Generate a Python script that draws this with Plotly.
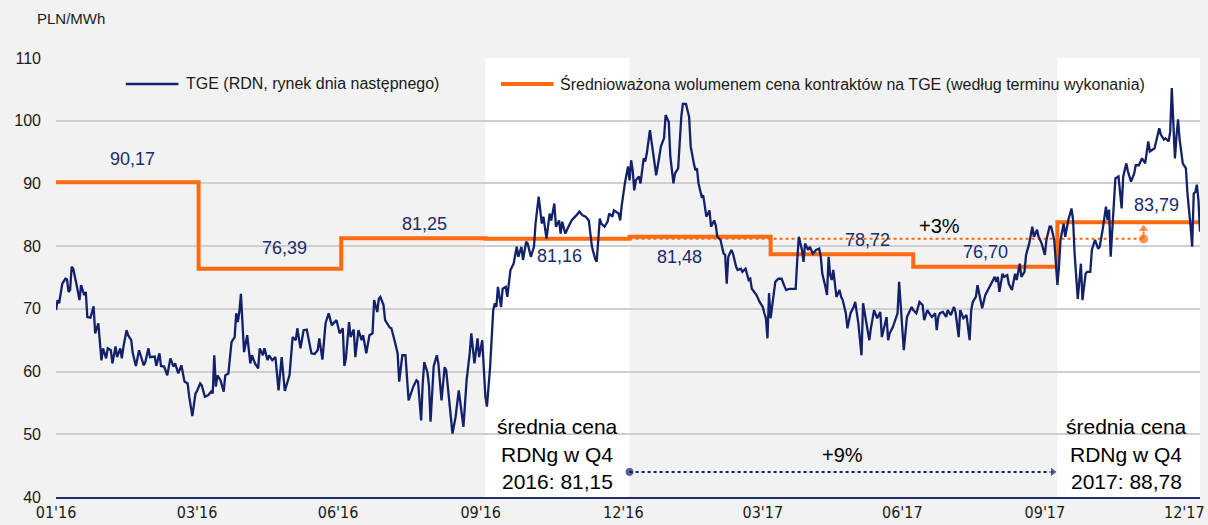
import pandas as pd
import plotly.graph_objects as go

START = pd.Timestamp("2016-01-01")

# ---- TGE day-ahead (RDN) daily price, PLN/MWh: day index since 2016-01-01 ----
tge_day = [
    0, 1, 2, 4, 6, 7, 8, 9, 10, 11, 13, 15, 16, 18, 19, 20, 22, 24, 25, 27,
    29, 30, 32, 33, 35, 36, 38, 39, 41, 42, 43, 45, 46, 48, 49, 51, 53, 54, 56, 57,
    59, 60, 63, 64, 66, 67, 69, 71, 73, 75, 76, 78, 80, 82, 84, 85, 87, 89, 90, 92,
    93, 95, 97, 99, 100, 101, 102, 103, 105, 107, 108, 110, 112, 114, 115, 116, 117, 118, 119,
    120, 122, 124, 125, 127, 129, 130, 132, 133, 135, 136, 138, 140, 141, 142, 144, 146, 149, 151, 153,
    154, 156, 158, 160, 163, 165, 167, 168, 170, 172, 174, 176, 179, 181, 183, 184, 185, 187, 188, 190,
    191, 193, 195, 196, 198, 200, 202, 203, 205, 206, 207, 209, 210, 213, 214, 216, 218, 219, 221, 223,
    225, 228, 230, 231, 233, 234, 235, 237, 238, 239, 241, 243,
    244, 246, 248, 249, 251, 253, 255, 257, 260, 262, 264, 265, 267, 269, 270, 272, 274, 275, 277, 279,
    280, 281, 282, 284, 285, 287, 288, 290, 292, 294, 295, 297, 298, 300, 301, 303, 305, 306, 308, 310,
    311, 313, 315, 316, 318, 319, 321, 322, 323, 325, 327, 329, 332, 334, 336, 338, 340, 342, 344, 345,
    347, 348, 350, 352, 353, 355, 356, 359, 360, 361, 363, 365,
    366, 367, 368, 369, 370, 372, 373, 375, 376, 377, 379, 380, 381, 383, 385, 386, 388, 389, 391, 392,
    394, 395, 397, 399, 400, 402, 404, 405, 407, 408, 409, 410, 412, 413, 415, 417, 418, 420, 421, 422,
    424, 426, 427, 428, 429, 431, 432, 434, 435, 437, 438, 440, 442, 443, 444, 446, 447, 449, 451, 452,
    453, 454, 455, 456, 458, 459, 461, 463, 465, 466, 468, 470, 472, 473, 474, 476, 477, 478, 480, 481,
    483, 485,
    487, 488, 489, 491, 492, 493, 494, 495, 496, 498, 500, 501, 502, 504, 505, 507, 509, 510, 512, 514,
    515, 517, 519, 520, 522, 524, 526, 527, 529, 530, 531, 532, 534, 535, 537, 538, 539, 540, 541, 543,
    544, 546, 547, 549, 551, 553, 554, 556, 558, 559, 561, 562, 563, 564, 566, 568, 569, 571, 573, 574,
    576, 577, 579, 581, 583, 584, 585, 587, 588, 590, 591, 593, 594, 596, 598, 599, 600,
    601, 602, 604, 605, 607, 608, 610, 612, 613, 615, 616, 618, 619, 621, 623, 624, 626, 627, 629, 631,
    632, 634, 635, 637, 639, 640, 641, 643, 644, 646, 648, 649, 650, 652, 653, 654, 655, 657, 658, 660,
    661, 663, 665, 666, 668, 670, 671, 672, 673, 674, 675, 676, 678, 680, 681, 683, 684, 686, 688, 689,
    691, 693, 695, 697, 698, 700, 701, 704, 705, 707, 708, 710, 711, 712, 714, 715, 716, 717, 719, 721,
    722, 724, 725, 726, 727, 728, 729, 730,
]
tge_price = [
    69.8, 71.4, 70.9, 74.0, 74.8, 74.7, 72.7, 73.0, 76.7, 76.4, 74.0, 71.4, 73.8, 72.2, 72.7, 68.7, 68.6, 70.4, 66.1, 67.7,
    61.8, 63.7, 62.1, 63.7, 63.4, 61.3, 64.0, 62.3, 63.7, 62.1, 63.9, 66.6, 65.8, 65.0, 62.9, 60.9, 63.4, 62.6, 61.0, 61.5,
    63.7, 62.3, 62.4, 60.9, 62.9, 60.9, 60.8, 59.4, 62.1, 60.8, 61.3, 59.7, 61.0, 58.4, 58.1, 56.0, 52.9, 56.5, 56.9, 58.1,
    57.8, 56.0, 56.2, 56.8, 56.5, 62.6, 57.6, 59.4, 58.6, 56.8, 59.4, 59.7, 64.7, 65.5, 69.3, 67.9, 69.5, 72.4, 67.9,
    63.1, 65.8, 61.3, 62.6, 61.3, 60.5, 63.7, 62.6, 63.7, 61.8, 62.6, 61.8, 62.3, 59.7, 57.0, 62.3, 56.9, 59.4, 65.5, 65.0,
    66.9, 63.7, 66.6, 66.7, 62.9, 62.8, 63.4, 65.3, 61.9, 67.7, 69.3, 67.4, 68.2, 66.1, 66.9, 60.9, 62.1, 67.9, 65.5, 66.7,
    62.3, 66.6, 65.0, 65.8, 62.9, 65.8, 66.1, 71.4, 69.5, 71.6, 71.9, 70.6, 68.2, 67.0, 66.9, 65.0, 62.9, 58.4, 62.6, 62.6,
    55.4, 57.6, 58.6, 58.4, 52.2, 58.1, 61.5, 59.9, 57.8, 52.0, 60.8, 62.6,
    61.3, 55.4, 60.7, 60.2, 54.9, 50.1, 52.8, 57.0, 51.2, 58.6, 62.9, 66.1, 61.3, 65.3, 62.3, 65.0, 56.0, 54.4, 60.7, 69.8,
    70.9, 70.3, 73.5, 70.3, 73.2, 73.5, 71.9, 76.2, 77.2, 79.9, 78.3, 79.9, 77.8, 80.7, 80.4, 78.3, 79.9, 83.6, 87.9, 83.6,
    84.7, 81.2, 85.2, 84.1, 86.8, 83.1, 84.1, 82.0, 83.9, 82.0, 83.1, 84.1, 84.9, 85.5, 84.9, 84.7, 84.1, 79.9, 78.0, 77.5,
    84.4, 83.6, 83.1, 83.9, 85.2, 84.7, 85.7, 85.2, 84.1, 86.5, 90.0, 92.7,
    90.5, 93.7, 92.1, 88.9, 90.5, 91.1, 90.0, 94.0, 93.5, 94.8, 98.5, 96.7, 95.6, 91.3, 94.3, 95.9, 97.2, 100.9, 99.8, 94.3,
    90.0, 91.6, 92.4, 100.6, 102.7, 102.7, 100.6, 95.9, 93.2, 92.1, 92.4, 90.0, 87.9, 88.1, 84.7, 85.7, 83.1, 84.1, 83.3, 81.5,
    81.0, 78.8, 78.6, 74.0, 78.3, 79.4, 78.8, 76.7, 76.2, 76.4, 75.9, 76.4, 74.6, 74.8, 73.2, 72.5, 72.2, 71.1, 70.3, 69.3,
    68.5, 65.3, 72.5, 68.5, 72.5, 74.3, 74.8, 74.8, 73.5, 73.0, 73.2, 73.2, 73.2, 77.8, 81.5, 79.4, 77.5, 80.4, 79.4, 79.9,
    78.8, 79.4,
    79.6, 78.3, 75.6, 73.5, 72.2, 78.3, 75.4, 74.6, 76.2, 71.9, 73.0, 71.9, 71.4, 69.3, 66.9, 69.3, 70.3, 71.1, 67.7, 62.6,
    70.9, 67.9, 65.0, 66.9, 69.8, 68.5, 69.5, 65.5, 67.7, 68.7, 65.0, 66.1, 67.1, 67.9, 69.3, 74.3, 70.3, 67.1, 63.4, 68.7,
    69.3, 70.3, 69.8, 69.3, 71.1, 70.6, 68.2, 69.8, 69.0, 68.7, 69.3, 66.6, 68.7, 69.3, 69.5, 68.7, 69.8, 69.0, 70.3, 69.5,
    65.5, 69.8, 68.5, 69.0, 65.0, 69.8, 71.1, 71.9, 73.8, 71.4, 70.1, 72.2, 72.7, 73.5, 74.6, 75.1, 74.3,
    75.1, 72.7, 75.6, 75.1, 75.4, 74.0, 73.0, 75.6, 74.6, 77.2, 75.1, 75.9, 78.6, 80.4, 83.1, 81.5, 82.6, 81.5, 80.4, 78.6,
    81.0, 83.1, 83.1, 81.0, 73.8, 76.7, 81.0, 83.6, 81.5, 84.2, 86.0, 84.2, 78.8, 71.6, 74.6, 77.2, 71.4, 75.6, 75.9, 75.9,
    79.4, 81.0, 79.6, 79.9, 82.8, 86.3, 84.2, 85.8, 78.3, 83.1, 87.4, 90.8, 91.1, 86.0, 91.1, 93.2, 91.9, 90.3, 91.6, 92.9,
    92.9, 94.0, 93.2, 96.7, 95.1, 95.4, 95.6, 98.8, 97.8, 97.0, 97.2, 96.7, 98.3, 105.2, 94.0, 97.5, 100.2, 97.0, 93.2, 92.4,
    88.4, 83.1, 79.9, 88.4, 88.6, 89.8, 87.4, 82.3,
]

# ---- volume-weighted contract price on TGE, by delivery quarter ----
quarter_start = ["2016-01-01", "2016-04-01", "2016-07-01", "2016-10-01",
                 "2017-01-01", "2017-04-01", "2017-07-01", "2017-10-01"]
contract_price = [90.17, 76.39, 81.25, 81.16, 81.48, 78.72, 76.70, 83.79]
period_end = "2017-12-31"

# ---- Q4 average RDN base prices ----
q4_labels = ["2016", "2017"]
q4_rdn_avg = [81.15, 88.78]

tick_dates = ["2016-01-01", "2016-03-31", "2016-06-29", "2016-09-28", "2016-12-28",
              "2017-03-27", "2017-06-24", "2017-09-23", "2017-12-21"]
tick_labels = ["01'16", "03'16", "06'16", "09'16", "12'16", "03'17", "06'17", "09'17", "12'17"]

# ---------------------------------------------------------------------------
NAVY = "#13216a"
LABEL_NAVY = "#1c2b6b"
ORANGE = "#ff6a10"
BG = "#f2f2f2"
FONT = "Liberation Sans, Arial, sans-serif"
NARROW = "Liberation Sans Narrow, DejaVu Sans Condensed, Arial Narrow, sans-serif"

def fmt(v):
    return f"{v:.2f}".replace(".", ",")

tge_dates = START + pd.to_timedelta(tge_day, unit="D")
step_x = quarter_start + [period_end]
step_y = contract_price + [contract_price[-1]]

fig = go.Figure()

# contract step line
fig.add_trace(go.Scatter(x=step_x, y=step_y, mode="lines", line_shape="hv",
                         line=dict(color=ORANGE, width=4), name="contracts",
                         hoverinfo="skip"))

# dotted reference at Q4'16 contract level, +3% arrow
fig.add_trace(go.Scatter(x=["2017-01-01", "2017-11-25"], y=[contract_price[3]] * 2,
                         mode="lines", line=dict(color=ORANGE, width=2, dash="dot"),
                         hoverinfo="skip"))
fig.add_trace(go.Scatter(x=["2017-11-25", "2017-11-25"], y=[contract_price[3], 82.75],
                         mode="lines+markers", line=dict(color=ORANGE, width=2),
                         marker=dict(symbol=["circle", "triangle-up"], size=[10, 10],
                                     color=ORANGE), hoverinfo="skip"))

# TGE daily line
fig.add_trace(go.Scatter(x=tge_dates, y=tge_price, mode="lines",
                         line=dict(color=NAVY, width=2.3), name="TGE"))

# +9% arrow between Q4 averages
fig.add_trace(go.Scatter(x=["2017-01-01", "2017-09-28"], y=[44.0, 44.0],
                         mode="lines+markers", line=dict(color=NAVY, width=2, dash="dot"),
                         marker=dict(symbol=["circle", "triangle-right"], size=[9, 9], color=NAVY),
                         hoverinfo="skip"))

shapes = [
    dict(type="rect", xref="x", yref="y", x0="2016-10-01", x1="2017-01-01", y0=40, y1=110,
         fillcolor="white", line=dict(width=0), layer="below"),
    dict(type="rect", xref="x", yref="y", x0="2017-10-01", x1="2018-01-05", y0=40, y1=110,
         fillcolor="white", line=dict(width=0), layer="below"),
    # legend line samples
    dict(type="line", xref="paper", yref="paper", x0=0.061, x1=0.107, y0=0.941, y1=0.941,
         line=dict(color=NAVY, width=2.5)),
    dict(type="line", xref="paper", yref="paper", x0=0.389, x1=0.435, y0=0.941, y1=0.941,
         line=dict(color=ORANGE, width=4)),
]

ann = []
def add_text(x, y, text, size, color, xref="x", yref="y", xanchor="center"):
    ann.append(dict(x=x, y=y, xref=xref, yref=yref, text=text, showarrow=False,
                    xanchor=xanchor, yanchor="middle",
                    font=dict(family=FONT, size=size, color=color)))

# legend texts
add_text(0.1123, 0.941, "TGE (RDN, rynek dnia następnego)", 16, "#1a1a1a", "paper", "paper", "left")
add_text(0.4385, 0.941, "Średnioważona wolumenem cena kontraktów na TGE (według terminu wykonania)",
         16, "#1a1a1a", "paper", "paper", "left")
add_text(-0.018, 1.091, "PLN/MWh", 15, "#1a1a1a", "paper", "paper", "left")

# contract value labels
label_pos = [("2016-02-19", 93.9), ("2016-05-26", 79.7), ("2016-08-23", 83.5),
             ("2016-11-17", 78.4), ("2017-02-02", 78.3), ("2017-06-02", 81.0),
             ("2017-08-16", 79.1), ("2017-12-03", 86.6)]
for (lx, ly), v in zip(label_pos, contract_price):
    add_text(lx, ly, fmt(v), 18, LABEL_NAVY)

add_text("2017-07-18", 83.2, "+3%", 20, "#000000")
add_text("2017-05-17", 46.7, "+9%", 20, "#000000")

block_x = ["2016-11-16", "2017-11-14"]
for bx, yr, avg in zip(block_x, q4_labels, q4_rdn_avg):
    add_text(bx, 51.2, "średnia cena", 21, "#000000")
    add_text(bx, 46.7, "RDNg w Q4", 21, "#000000")
    add_text(bx, 42.4, f"{yr}: {fmt(avg)}", 21, "#000000")

fig.update_layout(
    width=1208, height=525,
    margin=dict(l=56, r=3, t=58, b=28),
    paper_bgcolor=BG, plot_bgcolor=BG,
    showlegend=False,
    font=dict(family=FONT, size=15, color="#1a1a1a"),
    shapes=shapes, annotations=ann,
    xaxis=dict(type="date", range=["2016-01-01", "2017-12-31"],
               tickvals=tick_dates, ticktext=tick_labels, ticks="",
               ticklabeloverflow="allow",
               showgrid=False, zeroline=False, showline=True,
               linecolor="#1f2d6b", linewidth=2,
               tickfont=dict(family=NARROW, size=16, color="#1a1a1a")),
    yaxis=dict(range=[40, 110], dtick=10, tick0=40, ticks="",
               showgrid=True, gridcolor="#cfcfcf", gridwidth=1.5,
               zeroline=False, showline=False, ticklabelstandoff=14,
               tickfont=dict(family=FONT, size=16, color="#1a1a1a")),
)

fig.write_html(
    "out.html",
    config={"displayModeBar": False},
    post_script="document.body.style.margin='0';document.body.style.background='#f2f2f2';",
)
